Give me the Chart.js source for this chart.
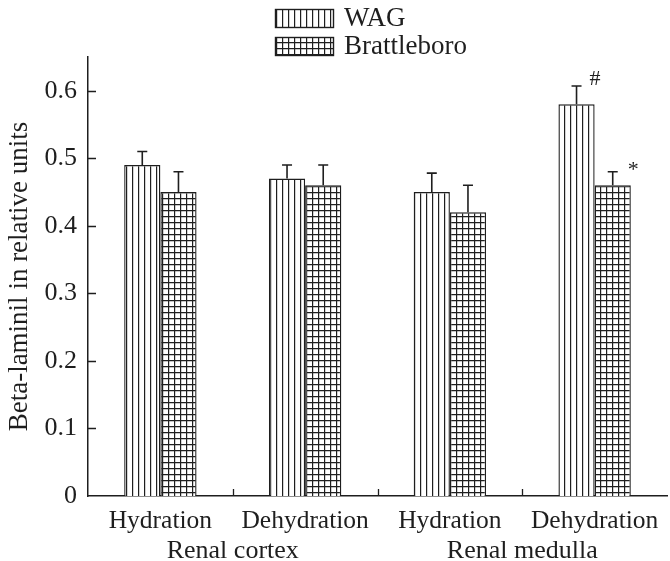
<!DOCTYPE html>
<html>
<head>
<meta charset="utf-8">
<script src="https://cdn.jsdelivr.net/npm/chart.js@4"></script>
<style>
html,body{margin:0;padding:0;background:#fff;}
#wrap{width:670px;height:561px;}
</style>
</head>
<body>
<div id="wrap"><canvas id="c" width="670" height="561"></canvas></div>
<script>
const categories = ['Hydration', 'Dehydration', 'Hydration', 'Dehydration'];
const groups = ['Renal cortex', 'Renal medulla'];
const seriesNames = ['WAG', 'Brattleboro'];
const wagValues = [0.49, 0.47, 0.45, 0.58];
const wagErrors = [0.02, 0.02, 0.028, 0.027];
const brattValues = [0.45, 0.46, 0.42, 0.46];
const brattErrors = [0.03, 0.03, 0.04, 0.02];
const wagMarks = ['', '', '', '#'];
const brattMarks = ['', '', '', '*'];
const yTickValues = [0, 0.1, 0.2, 0.3, 0.4, 0.5, 0.6];
const yTickLabels = ['0', '0.1', '0.2', '0.3', '0.4', '0.5', '0.6'];
const yTitle = 'Beta-laminil in relative units';

const INK = '#1e1e1e';
const FONT = 'Liberation Serif, Times New Roman, serif';

const canvas = document.getElementById('c');
const mainCtx = canvas.getContext('2d');

function makePattern(kind) {
  const c = document.createElement('canvas');
  c.width = 6; c.height = 6;
  const g = c.getContext('2d');
  g.fillStyle = '#fff';
  g.fillRect(0, 0, 6, 6);
  g.strokeStyle = INK;
  g.lineWidth = 1.2;
  g.beginPath();
  g.moveTo(0.6, 0); g.lineTo(0.6, 6);
  if (kind === 'grid') { g.moveTo(0, 0.6); g.lineTo(6, 0.6); }
  g.stroke();
  return mainCtx.createPattern(c, 'repeat');
}
const patterns = [makePattern('vert'), makePattern('grid')];
const errorsBySeries = [wagErrors, brattErrors];
const marksBySeries = [wagMarks, brattMarks];

const decorPlugin = {
  id: 'decor',
  afterDatasetsDraw(chart) {
    const ctx = chart.ctx;
    const ys = chart.scales.y;
    ctx.save();
    ctx.strokeStyle = INK;
    ctx.fillStyle = INK;
    ctx.lineWidth = 1.6;
    chart.data.datasets.forEach((ds, di) => {
      const meta = chart.getDatasetMeta(di);
      meta.data.forEach((bar, i) => {
        const top = ys.getPixelForValue(ds.data[i] + errorsBySeries[di][i]);
        ctx.beginPath();
        ctx.moveTo(bar.x, bar.y);
        ctx.lineTo(bar.x, top);
        ctx.moveTo(bar.x - 5, top);
        ctx.lineTo(bar.x + 5, top);
        ctx.stroke();
        const m = marksBySeries[di][i];
        if (m) {
          ctx.font = '22px ' + FONT;
          ctx.textAlign = 'left';
          ctx.textBaseline = 'alphabetic';
          ctx.fillText(m, bar.x + (m === '*' ? 15 : 13), top + (m === '*' ? 4 : -1));
        }
      });
    });
    ctx.restore();
  },
  afterDraw(chart) {
    const ctx = chart.ctx;
    const ys = chart.scales.y;
    const xs = chart.scales.x;
    const a = chart.chartArea;
    ctx.save();
    ctx.strokeStyle = INK;
    ctx.lineWidth = 1.3;
    ctx.beginPath();
    yTickValues.forEach(v => {
      if (v === 0) return;
      const y = Math.round(ys.getPixelForValue(v)) + 0.5;
      ctx.moveTo(a.left, y);
      ctx.lineTo(a.left + 8, y);
    });
    for (let i = 0; i < categories.length - 1; i++) {
      const x = Math.round((xs.getPixelForValue(i) + xs.getPixelForValue(i + 1)) / 2) + 0.5;
      ctx.moveTo(x, a.bottom);
      ctx.lineTo(x, a.bottom - 7);
    }
    ctx.stroke();
    // legend
    const boxX = 275, boxW = 58, boxH = 18;
    const rows = [9, 37];
    ctx.font = '27px ' + FONT;
    ctx.textAlign = 'left';
    ctx.textBaseline = 'middle';
    seriesNames.forEach((name, i) => {
      ctx.fillStyle = patterns[i];
      ctx.fillRect(boxX, rows[i], boxW, boxH);
      ctx.strokeStyle = INK;
      ctx.lineWidth = 1.4;
      ctx.strokeRect(boxX + 0.5, rows[i] + 0.5, boxW, boxH);
      ctx.fillStyle = INK;
      ctx.fillText(name, boxX + boxW + 11, rows[i] + boxH / 2 + 1);
    });
    ctx.restore();
  }
};

new Chart(canvas, {
  type: 'bar',
  data: {
    labels: categories,
    datasets: [
      { label: seriesNames[0], data: wagValues, backgroundColor: patterns[0], borderColor: INK, borderWidth: 1.4 },
      { label: seriesNames[1], data: brattValues, backgroundColor: patterns[1], borderColor: INK, borderWidth: 1.4 }
    ]
  },
  options: {
    responsive: false,
    animation: false,
    devicePixelRatio: 1,
    layout: { padding: { top: 57, right: 3, bottom: 0, left: 0 } },
    plugins: { legend: { display: false }, tooltip: { enabled: false } },
    datasets: { bar: { categoryPercentage: 0.5, barPercentage: 1.0 } },
    scales: {
      y: {
        min: 0, max: 0.65,
        afterBuildTicks: s => { s.ticks = yTickValues.map(v => ({ value: v })); },
        afterFit: s => { s.width = 88; },
        ticks: {
          callback: (v) => yTickLabels[yTickValues.findIndex(t => Math.abs(t - v) < 1e-9)],
          font: { family: FONT, size: 26 }, color: INK, padding: 11
        },
        grid: { display: false, drawTicks: false },
        border: { display: true, color: INK, width: 1.5 },
        title: { display: true, text: yTitle, font: { family: FONT, size: 27 }, color: INK, padding: { top: 4, bottom: 0 } }
      },
      x: {
        offset: true,
        afterFit: s => { s.height = 40; },
        ticks: { font: { family: FONT, size: 25.5 }, color: INK, padding: 10, maxRotation: 0, autoSkip: false },
        grid: { display: false, drawTicks: false },
        border: { display: true, color: INK, width: 1.5 }
      },
      x2: {
        type: 'category',
        labels: groups,
        position: 'bottom',
        offset: true,
        afterFit: s => { s.height = 25; },
        ticks: { font: { family: FONT, size: 26 }, color: INK, padding: 0, maxRotation: 0, autoSkip: false },
        grid: { display: false, drawTicks: false },
        border: { display: false }
      }
    }
  },
  plugins: [decorPlugin]
});
</script>
</body>
</html>
